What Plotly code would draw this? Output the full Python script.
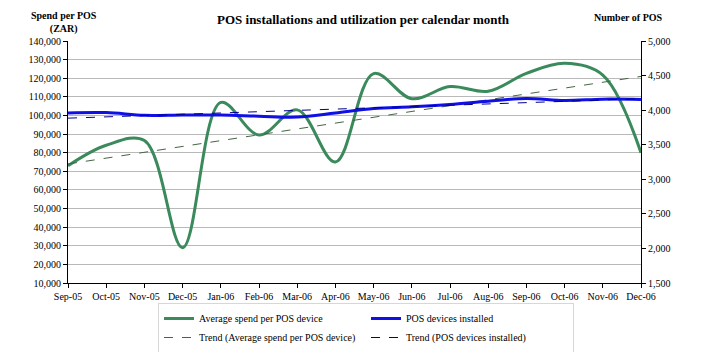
import numpy as np
import plotly.graph_objects as go

months = ["Sep-05", "Oct-05", "Nov-05", "Dec-05", "Jan-06", "Feb-06", "Mar-06", "Apr-06",
          "May-06", "Jun-06", "Jul-06", "Aug-06", "Sep-06", "Oct-06", "Nov-06", "Dec-06"]
avg_spend = [73000, 84000, 86500, 29000, 107000, 89500, 103000, 75000,
             122500, 109000, 115500, 113000, 122600, 128000, 121700, 80000]
pos_installed = [3960, 3965, 3925, 3930, 3930, 3913, 3900, 3960,
                 4024, 4048, 4083, 4130, 4169, 4140, 4159, 4155]

idx = np.arange(len(months))
g_fit = np.polyfit(idx, avg_spend, 1)
b_fit = np.polyfit(idx, pos_installed, 1)
g_trend = np.polyval(g_fit, idx)
b_trend = np.polyval(b_fit, idx)

FONT = "Liberation Serif"
GREEN = "rgb(58,138,92)"
BLUE = "rgb(15,15,230)"

fig = go.Figure()
fig.add_trace(go.Scatter(x=months, y=avg_spend, name="Average spend per POS device",
                         mode="lines", line=dict(color=GREEN, width=3, shape="spline", smoothing=1.0)))
fig.add_trace(go.Scatter(x=months, y=pos_installed, name="POS devices installed", yaxis="y2",
                         mode="lines", line=dict(color=BLUE, width=3, shape="spline")))
fig.add_trace(go.Scatter(x=months, y=g_trend, name="Trend (Average spend per POS device)",
                         mode="lines", line=dict(color="rgb(70,100,70)", width=1, dash="dash")))
fig.add_trace(go.Scatter(x=months, y=b_trend, name="Trend (POS devices installed)", yaxis="y2",
                         mode="lines", line=dict(color="rgb(0,0,140)", width=1, dash="dash")))

fig.update_layout(
    width=709, height=352,
    margin=dict(l=68, r=68, t=41, b=69, autoexpand=False),
    paper_bgcolor="white", plot_bgcolor="white",
    font=dict(family=FONT, size=10, color="black"),
    showlegend=True,
    legend=dict(orientation="h", x=(158 - 68) / 573, xanchor="left", y=-(303 - 283) / 242,
                yanchor="top", entrywidth=162, entrywidthmode="pixels",
                bordercolor="rgb(215,215,215)", borderwidth=1,
                font=dict(family=FONT, size=10), tracegroupgap=0),
    xaxis=dict(type="category", categoryorder="array", categoryarray=months,
               range=[0, len(months) - 1], showgrid=False, showline=True, linecolor="black",
               linewidth=1, ticks="outside", ticklen=4, tickcolor="black",
               tickmode="array", tickvals=months, ticktext=months,
               tickfont=dict(family=FONT, size=10)),
    yaxis=dict(range=[10000, 140000], dtick=10000, tickformat=",", showgrid=True,
               gridcolor="rgb(185,185,185)", gridwidth=1, showline=True, linecolor="black",
               ticks="outside", ticklen=4, tickcolor="black", zeroline=False,
               tickfont=dict(family=FONT, size=10)),
    yaxis2=dict(range=[1500, 5000], dtick=500, tickformat=",", overlaying="y", side="right",
                showgrid=False, showline=True, linecolor="black", ticks="outside", ticklen=4,
                tickcolor="black", zeroline=False, tickfont=dict(family=FONT, size=10)),
    annotations=[
        dict(text="<b>POS installations and utilization per calendar month</b>", xref="paper",
             yref="paper", x=0.515, y=1.0, yshift=22, xanchor="center", yanchor="middle",
             showarrow=False, font=dict(family=FONT, size=13)),
        dict(text="<b>Spend per POS<br>(ZAR)</b>", xref="paper", yref="paper", x=0, xshift=-4,
             y=1.0, yshift=4, xanchor="center", yanchor="bottom", showarrow=False,
             font=dict(family=FONT, size=10)),
        dict(text="<b>Number of POS</b>", xref="paper", yref="paper", x=1.0, xshift=-13,
             y=1.0, yshift=24, xanchor="center", yanchor="middle", showarrow=False,
             font=dict(family=FONT, size=10)),
    ],
)

fig.write_html("out.html")
